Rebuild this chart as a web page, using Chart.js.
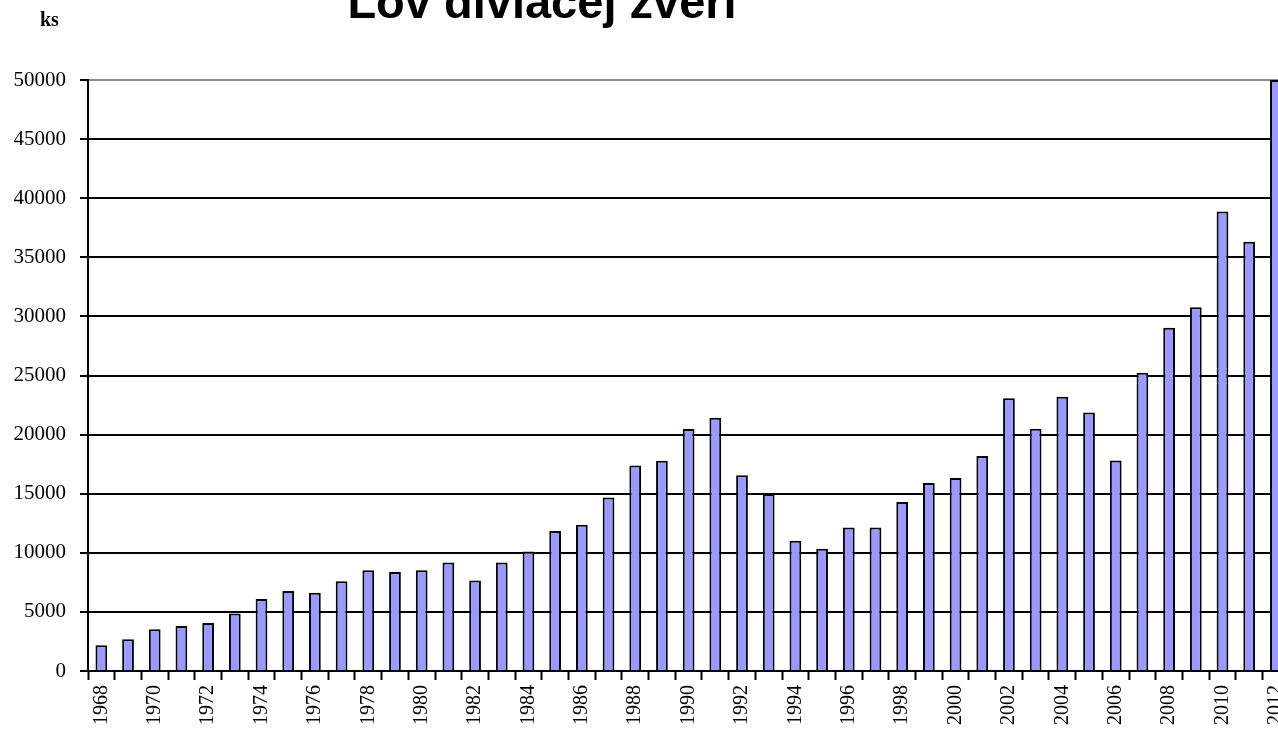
<!DOCTYPE html>
<html>
<head>
<meta charset="utf-8">
<title>Lov diviačej zveri</title>
<script src="https://cdn.jsdelivr.net/npm/chart.js@4/dist/chart.umd.min.js"></script>
<style>
  html, body { margin: 0; padding: 0; background: #ffffff; overflow: hidden; }
  #wrap { position: absolute; left: 0; top: 0; width: 1305px; height: 740px; }
  canvas { display: block; }
</style>
</head>
<body>
<div id="wrap"><canvas id="chart" width="1305" height="740"></canvas></div>
<script>
// Hunting of wild boar per year (pieces)
const years = [
  '1968','1969','1970','1971','1972','1973','1974','1975','1976','1977',
  '1978','1979','1980','1981','1982','1983','1984','1985','1986','1987',
  '1988','1989','1990','1991','1992','1993','1994','1995','1996','1997',
  '1998','1999','2000','2001','2002','2003','2004','2005','2006','2007',
  '2008','2009','2010','2011','2012'
];
const huntedCount = [
  2170, 2680, 3530, 3810, 4060, 4860, 6090, 6770, 6630, 7590,
  8520, 8380, 8520, 9180, 7650, 9180, 10100, 11850, 12380, 14680,
  17380, 17780, 20480, 21430, 16570, 14970, 11030, 10350, 12150, 12150,
  14300, 15900, 16320, 18200, 23070, 20500, 23210, 21860, 17810, 25230,
  29030, 30780, 38880, 36320, 50000
];
const yMin = 0;
const yMax = 50000;
const yStep = 5000;
const titleText = 'Lov diviačej zveri';
const unitText = 'ks';

const serif = '"Liberation Serif", "Times New Roman", serif';
const sans = '"Liberation Sans", Arial, sans-serif';

// Title and unit caption drawn above the plot
const headerPlugin = {
  id: 'header',
  afterDraw(chart) {
    const { ctx, chartArea } = chart;
    ctx.save();
    ctx.fillStyle = '#000';
    ctx.textBaseline = 'alphabetic';
    ctx.font = 'bold 47px ' + sans;
    ctx.textAlign = 'center';
    ctx.fillText(titleText, chartArea.left + 454, 18);
    ctx.font = 'bold 20px ' + serif;
    ctx.textAlign = 'left';
    ctx.fillText(unitText, 40, 26);
    ctx.restore();
  }
};

new Chart(document.getElementById('chart'), {
  type: 'bar',
  data: {
    labels: years,
    datasets: [{
      data: huntedCount,
      backgroundColor: '#9999ff',
      borderColor: '#000000',
      borderWidth: 2,
      borderSkipped: 'bottom',
      categoryPercentage: 1.0,
      barPercentage: 0.44
    }]
  },
  options: {
    responsive: false,
    animation: false,
    layout: { padding: { top: 80, right: 10, bottom: 0, left: 0 } },
    plugins: {
      legend: { display: false },
      title: { display: false },
      tooltip: { enabled: false }
    },
    scales: {
      x: {
        offset: true,
        grid: {
          offset: true,
          drawOnChartArea: false,
          drawTicks: true,
          tickLength: 9,
          tickColor: '#000',
          tickWidth: 2
        },
        border: { display: true, color: '#000', width: 2 },
        ticks: {
          autoSkip: false,
          minRotation: 90,
          maxRotation: 90,
          padding: 5,
          color: '#000',
          font: { family: serif, size: 20 },
          callback: function (value, index) {
            return index % 2 === 0 ? this.getLabelForValue(value) : '';
          }
        },
        afterFit(scale) { scale.height = 69; }
      },
      y: {
        min: yMin,
        max: yMax,
        grid: {
          color: (c) => (c.tick && c.tick.value === yMax ? '#8c8c8c' : '#000'),
          lineWidth: 2,
          tickLength: 8,
          tickColor: '#000',
          tickWidth: 2
        },
        border: { display: true, color: '#000', width: 2 },
        ticks: {
          stepSize: yStep,
          padding: 14,
          color: '#000',
          font: { family: serif, size: 21 },
          callback: (v) => String(v)
        },
        afterFit(scale) { scale.width = 88; }
      }
    }
  },
  plugins: [headerPlugin]
});
</script>
</body>
</html>
